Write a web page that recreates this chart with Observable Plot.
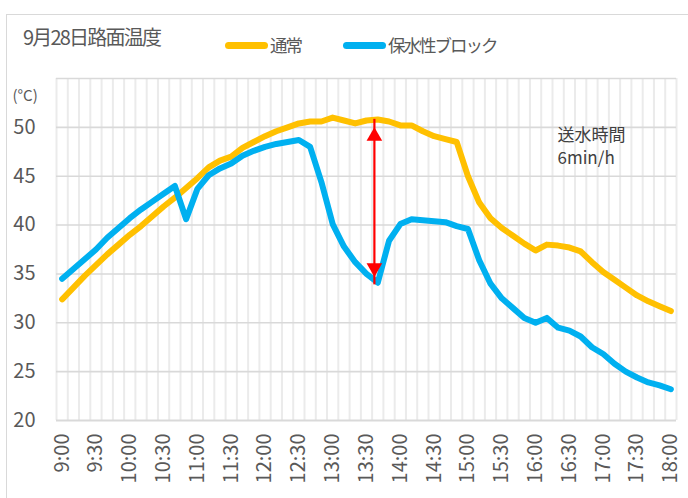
<!DOCTYPE html>
<html>
<head>
<meta charset="utf-8">
<script src="https://cdn.jsdelivr.net/npm/d3@7"></script>
<script src="https://cdn.jsdelivr.net/npm/@observablehq/plot@0.6"></script>
<style>
  html, body { margin: 0; padding: 0; background: #fff; }
  body { font-family: "Noto Sans CJK JP", "Noto Sans", sans-serif; color: #595959; }
  #wrap { position: relative; width: 688px; height: 498px; overflow: hidden; background: #fff; }
  #frame { position: absolute; left: 6px; top: 14px; width: 720px; height: 520px; border: 1.5px solid #d9d9d9; box-sizing: border-box; }
  #title { position: absolute; left: 23px; top: 27px; font-size: 20px; letter-spacing: -1.8px; line-height: 1; color: #595959; white-space: nowrap; }
  .lg { position: absolute; top: 35px; display: flex; align-items: center; font-size: 17.5px; letter-spacing: -2px; line-height: 20px; color: #595959; white-space: nowrap; }
  .sw { width: 43px; height: 7px; border-radius: 4px; margin-right: 2px; }
  #chart { position: absolute; left: 0; top: 60px; }
</style>
</head>
<body>
<div id="wrap">
  <div id="frame"></div>
  <div id="title">9月28日路面温度</div>
  <div id="legend"></div>
  <div id="chart"></div>
</div>
<script>
// ---- data ----
const times = ["9:00","9:10","9:20","9:30","9:40","9:50",
  "10:00","10:10","10:20","10:30","10:40","10:50",
  "11:00","11:10","11:20","11:30","11:40","11:50",
  "12:00","12:10","12:20","12:30","12:40","12:50",
  "13:00","13:10","13:20","13:30","13:40","13:50",
  "14:00","14:10","14:20","14:30","14:40","14:50",
  "15:00","15:10","15:20","15:30","15:40","15:50",
  "16:00","16:10","16:20","16:30","16:40","16:50",
  "17:00","17:10","17:20","17:30","17:40","17:50",
  "18:00"];
const seriesNames = ["通常", "保水性ブロック"];
const seriesColors = ["#FFC000", "#00B0F0"];
const normal = [32.4,33.6,34.8,35.9,37.0,38.0,
  39.0,39.9,40.9,41.9,42.8,43.8,
  44.8,45.9,46.6,47.0,47.9,48.5,
  49.1,49.6,50.0,50.4,50.6,50.6,
  51.0,50.7,50.4,50.7,50.8,50.6,
  50.2,50.2,49.6,49.1,48.8,48.5,
  45.0,42.3,40.7,39.7,38.9,38.1,
  37.4,38.0,37.9,37.7,37.3,36.2,
  35.2,34.4,33.6,32.8,32.2,31.7,
  31.2];
const block = [34.5,35.5,36.5,37.5,38.7,39.7,
  40.7,41.6,42.4,43.2,44.0,40.6,
  43.7,45.1,45.8,46.3,47.1,47.6,
  48.0,48.3,48.5,48.7,48.0,44.4,
  40.1,37.8,36.2,35.0,34.1,38.4,
  40.1,40.6,40.5,40.4,40.3,39.9,
  39.6,36.4,34.0,32.5,31.5,30.5,
  30.0,30.5,29.5,29.2,28.6,27.5,
  26.8,25.8,25.0,24.4,23.9,23.6,
  23.2];
const xTickLabels = ["9:00","9:30","10:00","10:30","11:00","11:30","12:00","12:30",
  "13:00","13:30","14:00","14:30","15:00","15:30","16:00","16:30","17:00","17:30","18:00"];
const yTicks = [20, 25, 30, 35, 40, 45, 50];
const yGrid = [25, 30, 35, 40, 45, 50, 55];
const yUnit = "(°C)";
const noteLines = ["送水時間", "6min/h"];
const arrowTime = ["13:37"];
const arrowRange = [34.7, 50.0];

// ---- helpers ----
const toMin = s => { const [h, m] = s.split(":").map(Number); return (h - 9) * 60 + m; };
const rows = [];
[normal, block].forEach((vals, k) => vals.forEach((v, i) => rows.push({t: toMin(times[i]), v, s: seriesNames[k]})));
const catGrid = times.map(t => toMin(t) - 5).concat([toMin(times[times.length - 1]) + 5]);
const arrowX = toMin(arrowTime[0]);
const arrowRow = [{x: arrowX, y1: arrowRange[0], y2: arrowRange[1]}];

// legend
const lg = document.getElementById("legend");
const lgLeft = [225, 343];
seriesNames.forEach((n, k) => {
  const d = document.createElement("div");
  d.className = "lg";
  d.style.left = lgLeft[k] + "px";
  d.innerHTML = `<div class="sw" style="background:${seriesColors[k]}"></div><span>${n}</span>`;
  lg.appendChild(d);
});

const chart = Plot.plot({
  width: 688,
  height: 438,
  marginLeft: 56,
  marginRight: 12,
  marginTop: 18,
  marginBottom: 78,
  style: {fontFamily: '"Noto Sans CJK JP", "Noto Sans", sans-serif', color: "#595959", background: "transparent", overflow: "visible"},
  x: {type: "linear", domain: [catGrid[0], catGrid[catGrid.length - 1]]},
  y: {domain: [20, 55]},
  color: {domain: seriesNames, range: seriesColors},
  marks: [
    Plot.gridX(catGrid, {stroke: "#ebebeb", strokeOpacity: 1, strokeWidth: 2}),
    Plot.gridY(yGrid, {stroke: "#d9d9d9", strokeOpacity: 1, strokeWidth: 1.6}),
    Plot.ruleY([20], {stroke: "#d9d9d9", strokeWidth: 2}),
    Plot.line(rows, {x: "t", y: "v", z: "s", stroke: "s", strokeWidth: 6, strokeLinecap: "round", strokeLinejoin: "round"}),
    Plot.ruleX(arrowRow, {x: "x", y1: "y1", y2: "y2", stroke: "#FF0000", strokeWidth: 2.2, insetTop: 8, insetBottom: 8}),
    Plot.dot(arrowRow, {x: "x", y: "y2", symbol: "triangle", r: 5.8, fill: "#FF0000", stroke: "none", dy: 9}),
    Plot.dot(arrowRow, {x: "x", y: "y1", symbol: "triangle", r: 5.8, fill: "#FF0000", stroke: "none", rotate: 180, dy: -9}),
    Plot.axisY(yTicks, {tickSize: 0, tickPadding: 21, fontSize: 20, fill: "#595959", label: null}),
    Plot.axisX(xTickLabels.map(toMin), {tickSize: 0, tickPadding: 13, tickRotate: -90, fontSize: 20, fill: "#595959", label: null,
      tickFormat: m => xTickLabels[xTickLabels.map(toMin).indexOf(m)]}),
    Plot.text([yUnit], {frameAnchor: "top-left", dx: -44, dy: 12, textAnchor: "start", fontSize: 15, fill: "#595959"}),
    Plot.text([noteLines[0]], {frameAnchor: "top-right", dx: -119, dy: 50, textAnchor: "start", lineAnchor: "top", fontSize: 17, fill: "#404040"}),
    Plot.text([noteLines[1]], {frameAnchor: "top-right", dx: -119, dy: 73, textAnchor: "start", lineAnchor: "top", fontSize: 17, fill: "#404040"})
  ]
});
document.getElementById("chart").appendChild(chart);
</script>
</body>
</html>
